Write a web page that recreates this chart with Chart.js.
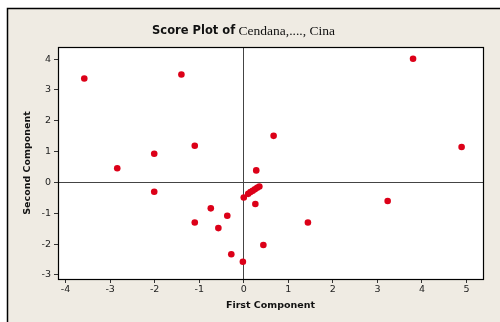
<!DOCTYPE html>
<html>
<head>
<meta charset="utf-8">
<script src="https://cdn.jsdelivr.net/npm/chart.js@4"></script>
<style>
  html, body { margin: 0; padding: 0; background: #fff; }
  #myCanvas { display: block; }
</style>
</head>
<body>
<canvas id="myCanvas" width="500" height="322"></canvas>
<script>
let canvas = document.getElementById("myCanvas");

// scores
const firstComp = [-3.58, -1.40, 3.80, 0.67, 4.89, -1.10, -2.01, -2.84, 0.28, -2.01,
  3.23, -1.10, 1.44, -0.74, -0.37, -0.57, 0.44, -0.28, -0.02, 0.00,
  0.26, 0.10, 0.15, 0.20, 0.25, 0.30, 0.35];
const secondComp = [3.37, 3.50, 4.01, 1.51, 1.15, 1.19, 0.93, 0.46, 0.39, -0.30,
  -0.60, -1.30, -1.30, -0.84, -1.08, -1.48, -2.03, -2.33, -2.57, -0.49,
  -0.70, -0.37, -0.31, -0.27, -0.22, -0.17, -0.13];
const xRange = [-4.17, 5.37];
const yRange = [-3.13, 4.39];
const titleBold = "Score Plot of";
const titleRest = " Cendana,...., Cina";
const xLabel = "First Component";
const yLabel = "Second Component";

let puntos = [];
firstComp.forEach((element, i) => {
  puntos.push({ x: firstComp[i], y: secondComp[i] });
});

// background, outer frame and title
const marco = {
  id: "marco",
  beforeDraw: (chart) => {
    const c = chart.ctx;
    c.save();
    c.fillStyle = "#ffffff";
    c.fillRect(0, 0, chart.width, chart.height);
    c.fillStyle = "#efebe3";
    c.fillRect(7, 8, chart.width - 7, chart.height - 8);
    c.strokeStyle = "#000";
    c.lineWidth = 1.5;
    c.beginPath();
    c.moveTo(7.5, chart.height);
    c.lineTo(7.5, 8.5);
    c.lineTo(chart.width, 8.5);
    c.stroke();
    const a = chart.chartArea;
    c.fillStyle = "#ffffff";
    c.fillRect(a.left, a.top, a.right - a.left, a.bottom - a.top);

    c.font = "bold 11.5px 'DejaVu Sans'";
    const w1 = c.measureText(titleBold).width;
    c.font = "13.5px 'Liberation Serif'";
    const w2 = c.measureText(titleRest).width;
    let x0 = 243.5 - (w1 + w2) / 2;
    c.textBaseline = "middle";
    c.fillStyle = "#111";
    c.font = "bold 11.5px 'DejaVu Sans'";
    c.fillText(titleBold, x0, 31);
    c.font = "13.5px 'Liberation Serif'";
    c.fillText(titleRest, x0 + w1, 31);
    c.restore();
  },
  afterDraw: (chart) => {
    const a = chart.chartArea;
    const c = chart.ctx;
    c.save();
    c.strokeStyle = "#000";
    c.lineWidth = 1.2;
    c.strokeRect(Math.round(a.left) + 0.5, Math.round(a.top) + 0.5,
      Math.round(a.right - a.left), Math.round(a.bottom - a.top));
    c.restore();
  }
};

const lineaCero = (ctx) => (ctx.tick && ctx.tick.value === 0 ? "#444" : "rgba(0,0,0,0)");

window.chart = new Chart(canvas, {
  type: "scatter",
  data: {
    datasets: [
      {
        label: "scores",
        data: puntos,
        backgroundColor: "#dc0018",
        borderColor: "#dc0018",
        pointRadius: 3.3,
        pointHoverRadius: 3.3,
        borderWidth: 0,
      },
    ],
  },
  options: {
    responsive: false,
    animation: false,
    devicePixelRatio: 1,
    layout: { padding: { left: 20, right: 17, top: 47, bottom: 0 } },
    plugins: {
      legend: { display: false },
      tooltip: { enabled: false },
    },
    scales: {
      x: {
        type: "linear",
        min: xRange[0],
        max: xRange[1],
        afterFit: (s) => { s.height = 43; },
        ticks: {
          stepSize: 1,
          includeBounds: false,
          padding: 1,
          color: "#222",
          font: { family: "DejaVu Sans", size: 9.5 },
        },
        grid: { color: lineaCero, tickColor: "#333", tickLength: 4, lineWidth: 1 },
        border: { display: false },
        title: {
          display: true,
          text: xLabel,
          color: "#111",
          padding: 11,
          font: { family: "DejaVu Sans", size: 9.5, weight: "bold" },
        },
      },
      y: {
        type: "linear",
        min: yRange[0],
        max: yRange[1],
        afterFit: (s) => { s.width = 38; },
        ticks: {
          stepSize: 1,
          includeBounds: false,
          padding: 3,
          color: "#222",
          font: { family: "DejaVu Sans", size: 9.5 },
        },
        grid: { color: lineaCero, tickColor: "#333", tickLength: 4, lineWidth: 1 },
        border: { display: false },
        title: {
          display: true,
          text: yLabel,
          color: "#111",
          padding: 2,
          font: { family: "DejaVu Sans", size: 9.5, weight: "bold" },
        },
      },
    },
  },
  plugins: [marco],
});
</script>
</body>
</html>
